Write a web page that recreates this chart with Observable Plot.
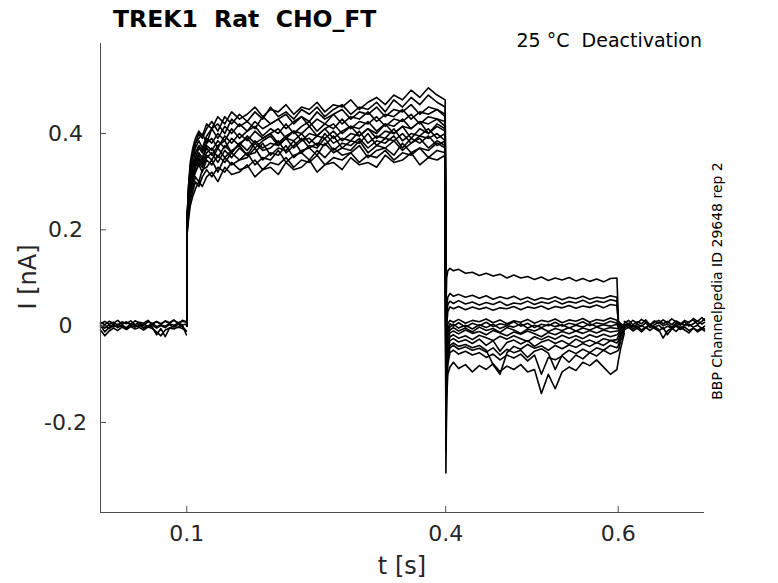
<!DOCTYPE html>
<html><head><meta charset="utf-8">
<script src="https://cdn.jsdelivr.net/npm/d3@7"></script>
<script src="https://cdn.jsdelivr.net/npm/@observablehq/plot@0.6"></script>
<style>body{margin:0;background:#fff} #chart{width:778px;height:583px}</style>
</head><body><div id="chart"></div>
<script>
// time grids (s)
const tPre = [0, 0.005, 0.01, 0.015, 0.02, 0.025, 0.03, 0.035, 0.04, 0.045, 0.05, 0.055, 0.06, 0.065, 0.07, 0.075, 0.08, 0.085, 0.09, 0.095, 0.0995];
const tAct = [0.1, 0.1003, 0.102, 0.104, 0.107, 0.11, 0.114, 0.118, 0.123, 0.129, 0.136, 0.144, 0.152, 0.161, 0.17, 0.179, 0.188, 0.197, 0.206, 0.215, 0.224, 0.233, 0.242, 0.251, 0.26, 0.27, 0.28, 0.29, 0.30, 0.31, 0.32, 0.33, 0.34, 0.35, 0.36, 0.37, 0.38, 0.39, 0.3995];
const tTail = [0.4003, 0.4012, 0.4025, 0.405, 0.409, 0.415, 0.423, 0.431, 0.439, 0.447, 0.455, 0.463, 0.471, 0.479, 0.487, 0.495, 0.503, 0.511, 0.519, 0.527, 0.535, 0.543, 0.551, 0.559, 0.567, 0.575, 0.583, 0.591, 0.5985];
const tRet = [0.6003, 0.603, 0.607];
const tPost = [0.607, 0.612, 0.617, 0.622, 0.627, 0.632, 0.637, 0.642, 0.647, 0.652, 0.657, 0.662, 0.667, 0.672, 0.677, 0.682, 0.687, 0.692, 0.697, 0.7];

// baseline before the step (nA)
const preBaseline = [
  [0.005, 0.01, 0.004, 0.008, 0.002, 0.009, 0.005, 0.011, 0.003, 0.008, 0.006, 0.012, 0.004, 0.009, 0.005, 0.01, 0.006, 0.012, 0.007, 0.01, 0.008],
  [0.0, -0.004, 0.003, -0.002, 0.004, 0.0, -0.003, 0.005, 0.001, -0.002, 0.004, 0.0, 0.006, -0.001, 0.003, 0.0, 0.005, 0.002, 0.006, 0.003, 0.004],
  [-0.008, -0.02, -0.01, -0.004, -0.009, -0.002, -0.007, -0.001, -0.006, -0.003, -0.008, -0.002, -0.005, -0.012, -0.02, -0.008, -0.004, -0.006, -0.002, -0.005, -0.01],
  [-0.003, 0.002, -0.005, 0.001, -0.002, 0.003, -0.004, 0.002, -0.001, 0.004, -0.003, 0.001, -0.002, -0.018, -0.005, -0.022, -0.004, 0.0, -0.003, 0.002, -0.018],
  [0.008, 0.003, 0.01, 0.006, 0.012, 0.004, 0.009, 0.003, 0.011, 0.007, 0.002, 0.009, 0.005, 0.01, 0.004, 0.011, 0.007, 0.013, 0.005, 0.012, 0.009],
  [0.002, -0.012, -0.002, 0.004, -0.003, 0.002, -0.006, 0.001, -0.002, 0.003, -0.005, -0.001, 0.002, -0.004, 0.001, -0.003, 0.003, -0.002, 0.004, -0.001, -0.01]
];

// activation phase, one row per sweep (nA)
const activation = [
  [0, 0.19, 0.22, 0.25, 0.27, 0.285, 0.30, 0.29, 0.31, 0.32, 0.30, 0.33, 0.315, 0.32, 0.335, 0.31, 0.325, 0.33, 0.315, 0.34, 0.325, 0.33, 0.345, 0.32, 0.335, 0.34, 0.325, 0.35, 0.335, 0.34, 0.33, 0.355, 0.34, 0.345, 0.36, 0.335, 0.35, 0.345, 0.355],
  [0, 0.20, 0.23, 0.26, 0.28, 0.30, 0.29, 0.31, 0.325, 0.31, 0.33, 0.32, 0.34, 0.325, 0.33, 0.345, 0.325, 0.34, 0.335, 0.35, 0.33, 0.345, 0.34, 0.355, 0.335, 0.35, 0.345, 0.36, 0.34, 0.355, 0.35, 0.365, 0.345, 0.36, 0.355, 0.37, 0.35, 0.365, 0.36],
  [0, 0.21, 0.24, 0.27, 0.29, 0.31, 0.30, 0.325, 0.33, 0.345, 0.32, 0.35, 0.335, 0.345, 0.36, 0.335, 0.35, 0.345, 0.365, 0.34, 0.355, 0.36, 0.345, 0.365, 0.35, 0.37, 0.355, 0.36, 0.375, 0.35, 0.365, 0.37, 0.355, 0.38, 0.36, 0.37, 0.365, 0.38, 0.37],
  [0, 0.19, 0.24, 0.28, 0.30, 0.32, 0.335, 0.32, 0.345, 0.335, 0.355, 0.34, 0.36, 0.345, 0.35, 0.37, 0.345, 0.36, 0.355, 0.375, 0.35, 0.365, 0.37, 0.355, 0.38, 0.36, 0.37, 0.365, 0.385, 0.36, 0.375, 0.37, 0.385, 0.365, 0.38, 0.39, 0.37, 0.385, 0.375],
  [0, 0.22, 0.25, 0.28, 0.31, 0.32, 0.34, 0.33, 0.35, 0.36, 0.34, 0.365, 0.35, 0.37, 0.355, 0.36, 0.38, 0.355, 0.37, 0.365, 0.385, 0.36, 0.375, 0.37, 0.39, 0.365, 0.38, 0.375, 0.39, 0.37, 0.385, 0.38, 0.395, 0.37, 0.39, 0.38, 0.395, 0.375, 0.385],
  [0, 0.20, 0.25, 0.29, 0.31, 0.33, 0.345, 0.335, 0.355, 0.345, 0.37, 0.35, 0.365, 0.375, 0.355, 0.38, 0.365, 0.37, 0.385, 0.36, 0.375, 0.39, 0.37, 0.38, 0.375, 0.395, 0.37, 0.385, 0.38, 0.40, 0.375, 0.39, 0.385, 0.40, 0.38, 0.395, 0.39, 0.40, 0.385],
  [0, 0.21, 0.26, 0.29, 0.32, 0.335, 0.35, 0.34, 0.36, 0.37, 0.35, 0.375, 0.36, 0.38, 0.365, 0.385, 0.37, 0.38, 0.375, 0.39, 0.37, 0.385, 0.39, 0.375, 0.40, 0.38, 0.39, 0.385, 0.405, 0.38, 0.395, 0.39, 0.41, 0.385, 0.40, 0.395, 0.41, 0.39, 0.40],
  [0, 0.23, 0.26, 0.30, 0.32, 0.34, 0.355, 0.345, 0.37, 0.355, 0.375, 0.385, 0.36, 0.38, 0.39, 0.37, 0.385, 0.395, 0.375, 0.39, 0.385, 0.40, 0.38, 0.395, 0.39, 0.405, 0.385, 0.40, 0.395, 0.41, 0.39, 0.405, 0.40, 0.415, 0.39, 0.41, 0.40, 0.415, 0.405],
  [0, 0.20, 0.26, 0.30, 0.33, 0.345, 0.36, 0.35, 0.375, 0.365, 0.385, 0.37, 0.39, 0.375, 0.395, 0.38, 0.39, 0.40, 0.38, 0.395, 0.405, 0.385, 0.40, 0.395, 0.41, 0.39, 0.405, 0.415, 0.395, 0.41, 0.40, 0.42, 0.40, 0.415, 0.41, 0.425, 0.40, 0.42, 0.41],
  [0, 0.22, 0.27, 0.31, 0.33, 0.35, 0.37, 0.36, 0.38, 0.39, 0.37, 0.395, 0.38, 0.40, 0.385, 0.405, 0.39, 0.40, 0.41, 0.39, 0.405, 0.40, 0.415, 0.395, 0.41, 0.42, 0.40, 0.415, 0.41, 0.425, 0.405, 0.42, 0.415, 0.43, 0.41, 0.425, 0.42, 0.43, 0.415],
  [0, 0.21, 0.27, 0.31, 0.34, 0.36, 0.375, 0.365, 0.39, 0.38, 0.40, 0.385, 0.41, 0.39, 0.405, 0.415, 0.395, 0.41, 0.40, 0.42, 0.40, 0.415, 0.425, 0.405, 0.42, 0.41, 0.43, 0.41, 0.425, 0.42, 0.435, 0.415, 0.43, 0.425, 0.44, 0.42, 0.435, 0.43, 0.425],
  [0, 0.23, 0.28, 0.32, 0.35, 0.37, 0.385, 0.37, 0.395, 0.41, 0.39, 0.415, 0.40, 0.42, 0.405, 0.425, 0.41, 0.42, 0.43, 0.41, 0.425, 0.435, 0.415, 0.43, 0.42, 0.44, 0.42, 0.435, 0.43, 0.445, 0.425, 0.44, 0.435, 0.45, 0.43, 0.445, 0.44, 0.45, 0.435],
  [0, 0.20, 0.28, 0.33, 0.36, 0.38, 0.39, 0.40, 0.38, 0.41, 0.42, 0.40, 0.43, 0.415, 0.425, 0.41, 0.435, 0.42, 0.43, 0.44, 0.42, 0.435, 0.425, 0.445, 0.43, 0.44, 0.45, 0.43, 0.445, 0.44, 0.455, 0.435, 0.45, 0.445, 0.46, 0.44, 0.455, 0.45, 0.44],
  [0, 0.22, 0.29, 0.33, 0.36, 0.38, 0.40, 0.39, 0.41, 0.425, 0.405, 0.435, 0.42, 0.44, 0.425, 0.445, 0.43, 0.455, 0.435, 0.445, 0.43, 0.45, 0.44, 0.455, 0.435, 0.45, 0.46, 0.44, 0.455, 0.45, 0.465, 0.445, 0.47, 0.455, 0.475, 0.46, 0.48, 0.465, 0.455],
  [0, 0.21, 0.29, 0.34, 0.37, 0.39, 0.405, 0.395, 0.42, 0.41, 0.435, 0.42, 0.445, 0.43, 0.44, 0.455, 0.435, 0.45, 0.445, 0.46, 0.44, 0.455, 0.45, 0.465, 0.445, 0.46, 0.455, 0.47, 0.45, 0.465, 0.475, 0.46, 0.48, 0.47, 0.49, 0.475, 0.495, 0.48, 0.47]
];

// deactivation tails, one row per sweep (nA)
const tails = [
  [0.03, 0.10, 0.115, 0.12, 0.115, 0.118, 0.11, 0.112, 0.105, 0.11, 0.104, 0.108, 0.1, 0.106, 0.1, 0.103, 0.097, 0.102, 0.095, 0.1, 0.096, 0.101, 0.094, 0.099, 0.093, 0.098, 0.092, 0.099, 0.1],
  [-0.02, 0.04, 0.06, 0.068, 0.062, 0.066, 0.06, 0.064, 0.058, 0.063, 0.056, 0.061, 0.057, 0.062, 0.055, 0.06, 0.054, 0.059, 0.056, 0.061, 0.055, 0.06, 0.057, 0.062, 0.056, 0.06, 0.058, 0.063, 0.06],
  [-0.04, 0.02, 0.045, 0.052, 0.047, 0.053, 0.046, 0.05, 0.044, 0.049, 0.045, 0.051, 0.043, 0.048, 0.046, 0.052, 0.045, 0.05, 0.047, 0.053, 0.046, 0.051, 0.048, 0.054, 0.047, 0.052, 0.049, 0.055, 0.052],
  [-0.06, 0.0, 0.03, 0.04, 0.036, 0.041, 0.034, 0.04, 0.035, 0.039, 0.033, 0.038, 0.036, 0.041, 0.034, 0.04, 0.037, 0.042, 0.035, 0.041, 0.038, 0.043, 0.037, 0.042, 0.039, 0.044, 0.038, 0.045, 0.043],
  [-0.09, -0.02, 0.005, 0.012, 0.008, 0.014, 0.006, 0.012, 0.009, 0.015, 0.007, 0.013, 0.005, 0.011, 0.008, 0.014, 0.006, 0.012, 0.009, 0.015, 0.007, 0.013, 0.01, 0.016, 0.008, 0.014, 0.011, 0.017, 0.012],
  [-0.1, -0.03, -0.005, 0.005, 0.0, 0.007, -0.002, 0.006, 0.001, 0.008, -0.001, 0.005, 0.002, 0.009, 0.0, 0.006, -0.003, 0.004, 0.001, 0.008, 0.0, 0.006, 0.003, 0.009, 0.001, 0.007, 0.004, 0.01, 0.006],
  [-0.12, -0.04, -0.012, -0.002, 0.004, -0.004, 0.002, -0.006, 0.003, -0.003, 0.004, -0.005, 0.001, -0.002, 0.005, -0.004, 0.002, -0.003, 0.004, -0.001, 0.003, -0.004, 0.002, -0.002, 0.005, -0.001, 0.003, 0.0, 0.004],
  [-0.13, -0.05, -0.02, -0.008, -0.003, -0.01, -0.004, -0.012, -0.002, -0.009, -0.005, -0.013, -0.003, -0.008, -0.015, -0.006, -0.01, -0.004, -0.011, -0.005, -0.009, -0.003, -0.01, -0.004, -0.008, -0.002, -0.007, -0.003, -0.005],
  [-0.15, -0.06, -0.03, -0.014, -0.01, -0.016, -0.008, -0.015, -0.011, -0.018, -0.009, -0.014, -0.02, -0.012, -0.017, -0.01, -0.016, -0.022, -0.013, -0.018, -0.011, -0.016, -0.01, -0.015, -0.009, -0.014, -0.008, -0.012, -0.01],
  [-0.17, -0.08, -0.04, -0.022, -0.018, -0.025, -0.02, -0.028, -0.019, -0.024, -0.03, -0.021, -0.027, -0.02, -0.026, -0.032, -0.022, -0.028, -0.021, -0.027, -0.019, -0.025, -0.02, -0.026, -0.018, -0.023, -0.017, -0.022, -0.018],
  [-0.19, -0.09, -0.05, -0.03, -0.026, -0.033, -0.028, -0.036, -0.027, -0.04, -0.03, -0.052, -0.034, -0.029, -0.037, -0.03, -0.042, -0.033, -0.028, -0.036, -0.03, -0.038, -0.027, -0.034, -0.029, -0.035, -0.026, -0.03, -0.028],
  [-0.21, -0.1, -0.06, -0.04, -0.035, -0.042, -0.038, -0.045, -0.04, -0.05, -0.08, -0.1, -0.055, -0.042, -0.048, -0.038, -0.046, -0.041, -0.05, -0.04, -0.047, -0.039, -0.044, -0.036, -0.042, -0.034, -0.04, -0.03, -0.035],
  [-0.23, -0.11, -0.07, -0.045, -0.04, -0.048, -0.043, -0.05, -0.046, -0.054, -0.045, -0.06, -0.048, -0.055, -0.05, -0.065, -0.052, -0.047, -0.056, -0.09, -0.06, -0.05, -0.057, -0.048, -0.055, -0.045, -0.05, -0.04, -0.045],
  [-0.26, -0.13, -0.08, -0.055, -0.05, -0.058, -0.052, -0.06, -0.055, -0.065, -0.058, -0.07, -0.06, -0.066, -0.058, -0.072, -0.06, -0.1, -0.065, -0.07, -0.062, -0.075, -0.06, -0.068, -0.055, -0.062, -0.05, -0.058, -0.052],
  [-0.305, -0.15, -0.1, -0.085, -0.075, -0.088, -0.08, -0.095, -0.082, -0.09, -0.078, -0.094, -0.083, -0.09, -0.08, -0.095, -0.09, -0.14, -0.1, -0.13, -0.095, -0.085, -0.092, -0.075, -0.082, -0.07, -0.085, -0.1, -0.09]
];

// return to holding at 0.6 s, one row per sweep (nA)
const returns = [
  [0.01, 0.005, 0.0], [0.005, 0.0, 0.003], [0.0, 0.004, -0.002], [0.003, -0.002, 0.004], [-0.002, 0.003, 0.0],
  [0.0, -0.003, 0.002], [-0.004, 0.002, -0.001], [-0.006, 0.0, 0.003], [-0.01, -0.004, 0.001], [-0.015, -0.006, 0.0],
  [-0.02, -0.01, -0.002], [-0.03, -0.015, -0.004], [-0.04, -0.02, -0.006], [-0.05, -0.03, -0.01], [-0.07, -0.045, -0.015]
];

// baseline after the protocol (nA)
const postBaseline = [
  [0.01, 0.004, 0.012, 0.006, 0.014, 0.008, 0.003, 0.011, 0.006, 0.013, 0.007, 0.015, 0.009, 0.004, 0.012, 0.007, 0.016, 0.01, 0.018, 0.012],
  [0.0, 0.006, -0.002, 0.004, 0.0, 0.007, -0.003, 0.003, 0.008, 0.001, 0.005, -0.002, 0.006, 0.002, 0.009, 0.0, 0.005, 0.011, 0.004, 0.008],
  [-0.008, -0.002, -0.01, -0.004, -0.012, -0.003, -0.009, -0.001, -0.007, -0.025, -0.01, -0.004, -0.011, -0.002, -0.008, -0.014, -0.004, -0.009, -0.003, -0.006],
  [0.004, -0.003, 0.002, -0.005, 0.001, -0.004, 0.003, -0.002, 0.002, -0.006, 0.0, -0.004, 0.003, -0.003, 0.001, 0.004, -0.002, 0.002, -0.005, 0.0],
  [-0.004, 0.002, -0.006, 0.0, -0.008, -0.002, 0.001, -0.005, -0.01, -0.003, -0.018, -0.006, 0.0, -0.007, -0.002, -0.009, -0.004, -0.012, -0.006, -0.01],
  [0.006, 0.012, 0.003, 0.009, 0.005, 0.013, 0.002, 0.008, 0.012, 0.005, 0.01, 0.003, 0.011, 0.006, 0.002, 0.009, 0.013, 0.004, 0.01, 0.015]
];

const xTicks = [0.1, 0.4, 0.6];
const yTicks = [-0.2, 0, 0.2, 0.4];
const xDomain = [0, 0.7];
const yDomain = [-0.387, 0.587];

const rows = [];
preBaseline.forEach((vals, k) => vals.forEach((v, i) => rows.push({id: "pre" + k, t: tPre[i], I: v})));
activation.forEach((act, k) => {
  act.forEach((v, i) => rows.push({id: "s" + k, t: tAct[i], I: v}));
  tails[k].forEach((v, i) => rows.push({id: "s" + k, t: tTail[i], I: v}));
  returns[k].forEach((v, i) => rows.push({id: "s" + k, t: tRet[i], I: v}));
});
postBaseline.forEach((vals, k) => vals.forEach((v, i) => rows.push({id: "post" + k, t: tPost[i], I: v})));

const axisColor = "#4d4d4d";
const plot = Plot.plot({
  width: 778, height: 583,
  marginLeft: 100, marginRight: 74, marginTop: 43, marginBottom: 71,
  x: {domain: xDomain},
  y: {domain: yDomain},
  style: {fontFamily: "DejaVu Sans", color: "#262626", background: "#fff", overflow: "visible"},
  marks: [
    Plot.line(rows, {x: "t", y: "I", z: "id", stroke: "#000", strokeWidth: 1.6}),
    Plot.ruleX([xDomain[0]], {stroke: axisColor}),
    Plot.ruleY([yDomain[0]], {stroke: axisColor}),
    Plot.axisX(xTicks, {tickSize: -6, tickPadding: 19, fontSize: 22, stroke: axisColor, tickFormat: d => String(d), label: null}),
    Plot.axisY(yTicks, {tickSize: -6, tickPadding: 41, textAnchor: "middle", fontSize: 22, stroke: axisColor, tickFormat: d => String(d), label: null})
  ]
});
document.getElementById("chart").appendChild(plot);

const svg = d3.select(plot);
const ff = "DejaVu Sans";
svg.append("text").attr("x", 113).attr("y", 26.5).attr("text-anchor", "start").attr("font-family", ff).attr("font-weight", "bold")
  .attr("font-size", 23.5).attr("fill", "#000").style("white-space", "pre").text("TREK1  Rat  CHO_FT");
svg.append("text").attr("x", 702).attr("y", 47).attr("text-anchor", "end").attr("font-family", ff)
  .attr("font-size", 19).attr("fill", "#000").style("white-space", "pre").text("25 °C  Deactivation");
svg.append("text").attr("x", 402).attr("y", 574).attr("text-anchor", "middle").attr("font-family", ff)
  .attr("font-size", 24).attr("fill", "#262626").text("t [s]");
svg.append("text").attr("transform", "translate(36,277) rotate(-90)").attr("text-anchor", "middle").attr("font-family", ff)
  .attr("font-size", 24).attr("fill", "#262626").text("I [nA]");
svg.append("text").attr("transform", "translate(722,281) rotate(-90)").attr("text-anchor", "middle").attr("font-family", ff)
  .attr("font-size", 14).attr("fill", "#000").text("BBP Channelpedia ID 29648 rep 2");
</script>
</body></html>
